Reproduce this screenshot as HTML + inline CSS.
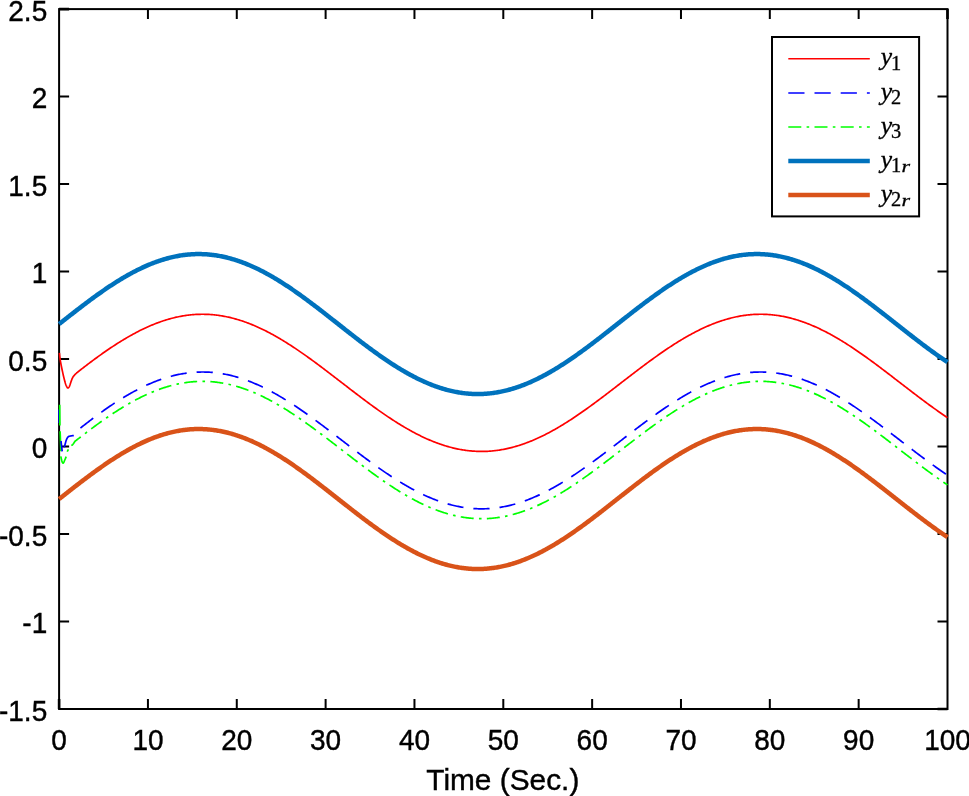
<!DOCTYPE html><html><head><meta charset="utf-8"><title>Plot</title><style>html,body{margin:0;padding:0;background:#fff}svg{display:block}text{font-family:"Liberation Sans",sans-serif;fill:#000}.s{font-family:"Liberation Serif",serif;font-style:italic}.r{font-family:"Liberation Serif",serif;font-style:normal}</style></head><body>
<svg width="969" height="796" viewBox="0 0 969 796">
<rect width="969" height="796" fill="#fff"/>
<g stroke="#000" stroke-width="2.00" fill="none">
<rect x="59.10" y="9.10" width="888.40" height="699.90"/>
<path d="M147.94 709.00V699.00 M147.94 9.10V19.10 M236.78 709.00V699.00 M236.78 9.10V19.10 M325.62 709.00V699.00 M325.62 9.10V19.10 M414.46 709.00V699.00 M414.46 9.10V19.10 M503.30 709.00V699.00 M503.30 9.10V19.10 M592.14 709.00V699.00 M592.14 9.10V19.10 M680.98 709.00V699.00 M680.98 9.10V19.10 M769.82 709.00V699.00 M769.82 9.10V19.10 M858.66 709.00V699.00 M858.66 9.10V19.10 M59.10 621.51H69.10 M947.50 621.51H937.50 M59.10 534.02H69.10 M947.50 534.02H937.50 M59.10 446.54H69.10 M947.50 446.54H937.50 M59.10 359.05H69.10 M947.50 359.05H937.50 M59.10 271.56H69.10 M947.50 271.56H937.50 M59.10 184.08H69.10 M947.50 184.08H937.50 M59.10 96.59H69.10 M947.50 96.59H937.50"/>
<path stroke-width="2.6" d="M947.50 9.10V19.10 M59.10 709.00V699.00 M59.10 9.10H69.10 M947.50 709.00H937.50"/>
</g>
<g fill="none" stroke-linejoin="round">
<path d="M59.40 352.80 L59.49 353.65 L59.60 354.79 L59.74 356.15 L59.91 357.69 L60.13 359.36 L60.40 361.10 L60.74 363.02 L61.16 365.17 L61.62 367.45 L62.10 369.74 L62.57 371.93 L63.00 373.90 L63.41 375.69 L63.82 377.41 L64.22 379.02 L64.60 380.50 L64.97 381.84 L65.30 383.00 L65.60 383.96 L65.87 384.72 L66.12 385.34 L66.36 385.84 L66.58 386.28 L66.80 386.70 L67.00 387.09 L67.18 387.42 L67.35 387.69 L67.52 387.88 L67.70 387.98 L67.90 388.00 L68.12 387.93 L68.36 387.79 L68.60 387.57 L68.86 387.25 L69.12 386.83 L69.40 386.30 L69.70 385.59 L70.02 384.71 L70.35 383.72 L70.68 382.70 L71.00 381.74 L71.30 380.90 L71.57 380.18 L71.81 379.52 L72.05 378.91 L72.29 378.34 L72.53 377.81 L72.80 377.30 L73.09 376.82 L73.41 376.39 L73.73 375.99 L74.06 375.62 L74.38 375.26 L74.70 374.90 L75.03 374.54 L75.37 374.17 L75.72 373.82 L76.04 373.50 L76.31 373.23 L76.50 373.03 L77.39 372.33 L78.48 371.48 L79.56 370.62 L80.65 369.77 L81.74 368.92 L82.83 368.08 L83.91 367.24 L85.00 366.40 L86.09 365.57 L87.18 364.74 L88.26 363.91 L89.35 363.09 L90.44 362.27 L91.53 361.46 L92.62 360.65 L93.70 359.84 L94.79 359.04 L95.88 358.24 L96.97 357.45 L98.05 356.66 L99.14 355.88 L100.23 355.10 L101.32 354.32 L102.40 353.55 L103.49 352.79 L104.58 352.03 L105.67 351.27 L106.75 350.52 L107.84 349.78 L108.93 349.04 L110.02 348.30 L111.11 347.57 L112.19 346.85 L113.28 346.13 L114.37 345.42 L115.46 344.72 L116.54 344.02 L117.63 343.33 L118.72 342.64 L119.81 341.96 L120.89 341.28 L121.98 340.61 L123.07 339.95 L124.16 339.30 L125.24 338.65 L126.33 338.01 L127.42 337.37 L128.51 336.75 L129.60 336.13 L130.68 335.51 L131.77 334.91 L132.86 334.31 L133.95 333.72 L135.03 333.13 L136.12 332.56 L137.21 331.99 L138.30 331.43 L139.38 330.87 L140.47 330.33 L141.56 329.79 L142.65 329.26 L143.73 328.74 L144.82 328.23 L145.91 327.72 L147.00 327.23 L148.08 326.74 L149.17 326.26 L150.26 325.79 L151.35 325.32 L152.44 324.87 L153.52 324.43 L154.61 323.99 L155.70 323.56 L156.79 323.14 L157.87 322.73 L158.96 322.33 L160.05 321.94 L161.14 321.56 L162.22 321.19 L163.31 320.82 L164.40 320.47 L165.49 320.13 L166.57 319.79 L167.66 319.46 L168.75 319.15 L169.84 318.84 L170.93 318.54 L172.01 318.26 L173.10 317.98 L174.19 317.71 L175.28 317.45 L176.36 317.20 L177.45 316.96 L178.54 316.74 L179.63 316.52 L180.71 316.31 L181.80 316.11 L182.89 315.92 L183.98 315.74 L185.06 315.57 L186.15 315.41 L187.24 315.27 L188.33 315.13 L189.42 315.00 L190.50 314.88 L191.59 314.77 L192.68 314.68 L193.77 314.59 L194.85 314.51 L195.94 314.44 L197.03 314.39 L198.12 314.34 L199.20 314.31 L200.29 314.28 L201.38 314.26 L202.47 314.26 L203.55 314.26 L204.64 314.28 L205.73 314.30 L206.82 314.34 L207.91 314.39 L208.99 314.44 L210.08 314.51 L211.17 314.59 L212.26 314.67 L213.34 314.77 L214.43 314.88 L215.52 315.00 L216.61 315.12 L217.69 315.26 L218.78 315.41 L219.87 315.57 L220.96 315.74 L222.04 315.92 L223.13 316.10 L224.22 316.30 L225.31 316.51 L226.40 316.73 L227.48 316.96 L228.57 317.20 L229.66 317.44 L230.75 317.70 L231.83 317.97 L232.92 318.25 L234.01 318.53 L235.10 318.83 L236.18 319.14 L237.27 319.45 L238.36 319.78 L239.45 320.11 L240.53 320.46 L241.62 320.81 L242.71 321.17 L243.80 321.55 L244.88 321.93 L245.97 322.32 L247.06 322.72 L248.15 323.13 L249.24 323.54 L250.32 323.97 L251.41 324.40 L252.50 324.85 L253.59 325.30 L254.67 325.76 L255.76 326.23 L256.85 326.71 L257.94 327.20 L259.02 327.69 L260.11 328.19 L261.20 328.71 L262.29 329.23 L263.37 329.75 L264.46 330.29 L265.55 330.83 L266.64 331.38 L267.73 331.94 L268.81 332.51 L269.90 333.08 L270.99 333.67 L272.08 334.25 L273.16 334.85 L274.25 335.45 L275.34 336.06 L276.43 336.68 L277.51 337.31 L278.60 337.94 L279.69 338.58 L280.78 339.22 L281.86 339.87 L282.95 340.53 L284.04 341.19 L285.13 341.86 L286.22 342.54 L287.30 343.22 L288.39 343.91 L289.48 344.61 L290.57 345.31 L291.65 346.01 L292.74 346.72 L293.83 347.44 L294.92 348.16 L296.00 348.89 L297.09 349.62 L298.18 350.36 L299.27 351.10 L300.35 351.85 L301.44 352.60 L302.53 353.35 L303.62 354.11 L304.71 354.88 L305.79 355.65 L306.88 356.42 L307.97 357.20 L309.06 357.98 L310.14 358.76 L311.23 359.55 L312.32 360.34 L313.41 361.14 L314.49 361.93 L315.58 362.73 L316.67 363.54 L317.76 364.35 L318.84 365.16 L319.93 365.97 L321.02 366.78 L322.11 367.60 L323.19 368.42 L324.28 369.24 L325.37 370.07 L326.46 370.89 L327.55 371.72 L328.63 372.55 L329.72 373.38 L330.81 374.21 L331.90 375.05 L332.98 375.88 L334.07 376.72 L335.16 377.56 L336.25 378.39 L337.33 379.23 L338.42 380.07 L339.51 380.91 L340.60 381.75 L341.68 382.59 L342.77 383.43 L343.86 384.27 L344.95 385.11 L346.04 385.95 L347.12 386.78 L348.21 387.62 L349.30 388.46 L350.39 389.30 L351.47 390.13 L352.56 390.97 L353.65 391.80 L354.74 392.63 L355.82 393.46 L356.91 394.29 L358.00 395.12 L359.09 395.94 L360.17 396.77 L361.26 397.59 L362.35 398.41 L363.44 399.22 L364.53 400.04 L365.61 400.85 L366.70 401.66 L367.79 402.46 L368.88 403.27 L369.96 404.07 L371.05 404.86 L372.14 405.66 L373.23 406.45 L374.31 407.23 L375.40 408.02 L376.49 408.80 L377.58 409.57 L378.66 410.34 L379.75 411.11 L380.84 411.87 L381.93 412.63 L383.02 413.39 L384.10 414.14 L385.19 414.88 L386.28 415.62 L387.37 416.36 L388.45 417.09 L389.54 417.81 L390.63 418.53 L391.72 419.25 L392.80 419.95 L393.89 420.66 L394.98 421.36 L396.07 422.05 L397.15 422.73 L398.24 423.41 L399.33 424.09 L400.42 424.76 L401.50 425.42 L402.59 426.07 L403.68 426.72 L404.77 427.36 L405.86 428.00 L406.94 428.63 L408.03 429.25 L409.12 429.86 L410.21 430.47 L411.29 431.07 L412.38 431.67 L413.47 432.25 L414.56 432.83 L415.64 433.40 L416.73 433.97 L417.82 434.52 L418.91 435.07 L419.99 435.61 L421.08 436.14 L422.17 436.67 L423.26 437.19 L424.35 437.69 L425.43 438.19 L426.52 438.69 L427.61 439.17 L428.70 439.64 L429.78 440.11 L430.87 440.57 L431.96 441.02 L433.05 441.46 L434.13 441.89 L435.22 442.31 L436.31 442.73 L437.40 443.13 L438.48 443.53 L439.57 443.91 L440.66 444.29 L441.75 444.66 L442.84 445.02 L443.92 445.37 L445.01 445.71 L446.10 446.04 L447.19 446.36 L448.27 446.68 L449.36 446.98 L450.45 447.27 L451.54 447.55 L452.62 447.83 L453.71 448.09 L454.80 448.35 L455.89 448.59 L456.97 448.83 L458.06 449.05 L459.15 449.26 L460.24 449.47 L461.33 449.66 L462.41 449.85 L463.50 450.02 L464.59 450.19 L465.68 450.34 L466.76 450.49 L467.85 450.62 L468.94 450.74 L470.03 450.86 L471.11 450.96 L472.20 451.06 L473.29 451.14 L474.38 451.21 L475.46 451.27 L476.55 451.33 L477.64 451.37 L478.73 451.40 L479.82 451.42 L480.90 451.43 L481.99 451.44 L483.08 451.43 L484.17 451.41 L485.25 451.38 L486.34 451.34 L487.43 451.29 L488.52 451.23 L489.60 451.16 L490.69 451.08 L491.78 450.98 L492.87 450.88 L493.95 450.77 L495.04 450.65 L496.13 450.52 L497.22 450.38 L498.30 450.22 L499.39 450.06 L500.48 449.89 L501.57 449.71 L502.66 449.51 L503.74 449.31 L504.83 449.10 L505.92 448.88 L507.01 448.64 L508.09 448.40 L509.18 448.15 L510.27 447.89 L511.36 447.62 L512.44 447.34 L513.53 447.05 L514.62 446.74 L515.71 446.43 L516.79 446.12 L517.88 445.79 L518.97 445.45 L520.06 445.10 L521.15 444.74 L522.23 444.38 L523.32 444.00 L524.41 443.62 L525.50 443.22 L526.58 442.82 L527.67 442.41 L528.76 441.99 L529.85 441.56 L530.93 441.12 L532.02 440.67 L533.11 440.21 L534.20 439.75 L535.28 439.28 L536.37 438.79 L537.46 438.30 L538.55 437.81 L539.64 437.30 L540.72 436.79 L541.81 436.26 L542.90 435.73 L543.99 435.19 L545.07 434.65 L546.16 434.09 L547.25 433.53 L548.34 432.96 L549.42 432.38 L550.51 431.80 L551.60 431.21 L552.69 430.61 L553.77 430.00 L554.86 429.39 L555.95 428.77 L557.04 428.14 L558.13 427.51 L559.21 426.87 L560.30 426.22 L561.39 425.57 L562.48 424.91 L563.56 424.24 L564.65 423.57 L565.74 422.89 L566.83 422.20 L567.91 421.51 L569.00 420.82 L570.09 420.11 L571.18 419.41 L572.26 418.69 L573.35 417.97 L574.44 417.25 L575.53 416.52 L576.61 415.79 L577.70 415.05 L578.79 414.30 L579.88 413.56 L580.97 412.80 L582.05 412.04 L583.14 411.28 L584.23 410.52 L585.32 409.75 L586.40 408.97 L587.49 408.19 L588.58 407.41 L589.67 406.63 L590.75 405.84 L591.84 405.04 L592.93 404.25 L594.02 403.45 L595.10 402.64 L596.19 401.84 L597.28 401.03 L598.37 400.22 L599.46 399.41 L600.54 398.59 L601.63 397.77 L602.72 396.95 L603.81 396.13 L604.89 395.30 L605.98 394.48 L607.07 393.65 L608.16 392.82 L609.24 391.99 L610.33 391.15 L611.42 390.32 L612.51 389.48 L613.59 388.65 L614.68 387.81 L615.77 386.97 L616.86 386.13 L617.95 385.30 L619.03 384.46 L620.12 383.62 L621.21 382.78 L622.30 381.94 L623.38 381.10 L624.47 380.26 L625.56 379.42 L626.65 378.58 L627.73 377.74 L628.82 376.91 L629.91 376.07 L631.00 375.24 L632.08 374.40 L633.17 373.57 L634.26 372.74 L635.35 371.91 L636.44 371.08 L637.52 370.25 L638.61 369.43 L639.70 368.61 L640.79 367.79 L641.87 366.97 L642.96 366.15 L644.05 365.34 L645.14 364.53 L646.22 363.72 L647.31 362.92 L648.40 362.11 L649.49 361.31 L650.57 360.52 L651.66 359.73 L652.75 358.94 L653.84 358.15 L654.92 357.37 L656.01 356.59 L657.10 355.82 L658.19 355.05 L659.28 354.28 L660.36 353.52 L661.45 352.77 L662.54 352.01 L663.63 351.27 L664.71 350.52 L665.80 349.78 L666.89 349.05 L667.98 348.32 L669.06 347.60 L670.15 346.88 L671.24 346.17 L672.33 345.46 L673.41 344.76 L674.50 344.07 L675.59 343.38 L676.68 342.69 L677.77 342.02 L678.85 341.34 L679.94 340.68 L681.03 340.02 L682.12 339.37 L683.20 338.72 L684.29 338.08 L685.38 337.45 L686.47 336.82 L687.55 336.20 L688.64 335.59 L689.73 334.99 L690.82 334.39 L691.90 333.80 L692.99 333.21 L694.08 332.64 L695.17 332.07 L696.26 331.51 L697.34 330.96 L698.43 330.41 L699.52 329.87 L700.61 329.34 L701.69 328.82 L702.78 328.31 L703.87 327.80 L704.96 327.31 L706.04 326.82 L707.13 326.34 L708.22 325.87 L709.31 325.40 L710.39 324.95 L711.48 324.50 L712.57 324.07 L713.66 323.64 L714.75 323.22 L715.83 322.81 L716.92 322.41 L718.01 322.01 L719.10 321.63 L720.18 321.26 L721.27 320.89 L722.36 320.54 L723.45 320.19 L724.53 319.85 L725.62 319.52 L726.71 319.21 L727.80 318.90 L728.88 318.60 L729.97 318.31 L731.06 318.03 L732.15 317.76 L733.24 317.50 L734.32 317.25 L735.41 317.01 L736.50 316.78 L737.59 316.56 L738.67 316.35 L739.76 316.15 L740.85 315.96 L741.94 315.78 L743.02 315.60 L744.11 315.44 L745.20 315.29 L746.29 315.15 L747.37 315.02 L748.46 314.90 L749.55 314.79 L750.64 314.69 L751.72 314.60 L752.81 314.52 L753.90 314.46 L754.99 314.40 L756.08 314.35 L757.16 314.31 L758.25 314.28 L759.34 314.26 L760.43 314.26 L761.51 314.26 L762.60 314.27 L763.69 314.30 L764.78 314.33 L765.86 314.37 L766.95 314.43 L768.04 314.49 L769.13 314.57 L770.21 314.65 L771.30 314.75 L772.39 314.85 L773.48 314.97 L774.57 315.09 L775.65 315.23 L776.74 315.38 L777.83 315.53 L778.92 315.70 L780.00 315.87 L781.09 316.06 L782.18 316.26 L783.27 316.46 L784.35 316.68 L785.44 316.91 L786.53 317.14 L787.62 317.39 L788.70 317.64 L789.79 317.91 L790.88 318.18 L791.97 318.47 L793.06 318.76 L794.14 319.07 L795.23 319.38 L796.32 319.71 L797.41 320.04 L798.49 320.38 L799.58 320.73 L800.67 321.09 L801.76 321.46 L802.84 321.84 L803.93 322.23 L805.02 322.63 L806.11 323.03 L807.19 323.45 L808.28 323.87 L809.37 324.31 L810.46 324.75 L811.55 325.20 L812.63 325.66 L813.72 326.13 L814.81 326.60 L815.90 327.09 L816.98 327.58 L818.07 328.08 L819.16 328.59 L820.25 329.11 L821.33 329.64 L822.42 330.17 L823.51 330.71 L824.60 331.26 L825.68 331.82 L826.77 332.38 L827.86 332.96 L828.95 333.54 L830.03 334.12 L831.12 334.72 L832.21 335.32 L833.30 335.93 L834.39 336.55 L835.47 337.17 L836.56 337.80 L837.65 338.44 L838.74 339.08 L839.82 339.73 L840.91 340.38 L842.00 341.05 L843.09 341.72 L844.17 342.39 L845.26 343.07 L846.35 343.76 L847.44 344.45 L848.52 345.15 L849.61 345.86 L850.70 346.57 L851.79 347.28 L852.88 348.00 L853.96 348.73 L855.05 349.46 L856.14 350.19 L857.23 350.93 L858.31 351.68 L859.40 352.43 L860.49 353.19 L861.58 353.95 L862.66 354.71 L863.75 355.48 L864.84 356.25 L865.93 357.02 L867.01 357.80 L868.10 358.59 L869.19 359.38 L870.28 360.17 L871.37 360.96 L872.45 361.76 L873.54 362.56 L874.63 363.36 L875.72 364.17 L876.80 364.98 L877.89 365.79 L878.98 366.60 L880.07 367.42 L881.15 368.24 L882.24 369.06 L883.33 369.89 L884.42 370.71 L885.50 371.54 L886.59 372.37 L887.68 373.20 L888.77 374.03 L889.86 374.86 L890.94 375.70 L892.03 376.53 L893.12 377.37 L894.21 378.21 L895.29 379.05 L896.38 379.89 L897.47 380.72 L898.56 381.56 L899.64 382.40 L900.73 383.24 L901.82 384.08 L902.91 384.92 L903.99 385.76 L905.08 386.60 L906.17 387.44 L907.26 388.28 L908.34 389.11 L909.43 389.95 L910.52 390.78 L911.61 391.62 L912.70 392.45 L913.78 393.28 L914.87 394.11 L915.96 394.94 L917.05 395.76 L918.13 396.59 L919.22 397.41 L920.31 398.23 L921.40 399.04 L922.48 399.86 L923.57 400.67 L924.66 401.48 L925.75 402.29 L926.83 403.09 L927.92 403.89 L929.01 404.69 L930.10 405.48 L931.19 406.27 L932.27 407.06 L933.36 407.85 L934.45 408.63 L935.54 409.40 L936.62 410.17 L937.71 410.94 L938.80 411.71 L939.89 412.47 L940.97 413.22 L942.06 413.97 L943.15 414.72 L944.24 415.46 L945.32 416.20 L946.41 416.93 L947.50 417.65" stroke="#ff0000" stroke-width="1.7"/>
<path d="M59.00 409.40 L59.20 423.00" stroke="#0000ff" stroke-width="1.70"/>
<path d="M59.70 404.70 L59.90 425.60 M60.10 431.20 L60.90 451.30 M60.80 456.40 L60.96 457.13 L61.19 458.20 L61.46 459.40 L61.74 460.53 L62.00 461.40 L62.24 462.02 L62.47 462.52 L62.71 462.89 L62.95 463.09 L63.20 463.10 L63.46 462.88 L63.74 462.43 L64.02 461.84 L64.30 461.17 L64.60 460.50 L64.93 459.74 L65.30 458.85 L65.67 457.94 L65.98 457.15 L66.20 456.60 M67.20 451.60 L68.40 449.40" stroke="#00ff00" stroke-width="1.70"/>
<path d="M71.40 445.70 L71.72 445.42 L72.19 445.02 L72.71 444.54 L73.20 444.00 L73.69 443.32 L74.21 442.52 L74.68 441.77 L75.00 441.25 L75.89 440.57 L76.98 439.74 L78.07 438.91 L79.16 438.08 L80.25 437.25 L81.34 436.41 L82.43 435.57 L83.52 434.73 L84.60 433.89 L85.69 433.05 L86.78 432.22 L87.87 431.40 L88.96 430.57 L90.05 429.75 L91.14 428.94 L92.23 428.12 L93.32 427.32 L94.41 426.51 L95.50 425.71 L96.59 424.91 L97.68 424.12 L98.77 423.33 L99.86 422.55 L100.95 421.77 L102.04 421.00 L103.13 420.23 L104.22 419.47 L105.31 418.71 L106.39 417.95 L107.48 417.20 L108.57 416.46 L109.66 415.72 L110.75 414.99 L111.84 414.26 L112.93 413.54 L114.02 412.82 L115.11 412.11 L116.20 411.41 L117.29 410.71 L118.38 410.02 L119.47 409.34 L120.56 408.66 L121.65 407.98 L122.74 407.32 L123.83 406.66 L124.92 406.01 L126.01 405.36 L127.10 404.72 L128.19 404.09 L129.27 403.46 L130.36 402.85 L131.45 402.24 L132.54 401.63 L133.63 401.04 L134.72 400.45 L135.81 399.87 L136.90 399.29 L137.99 398.73 L139.08 398.17 L140.17 397.62 L141.26 397.08 L142.35 396.55 L143.44 396.02 L144.53 395.50 L145.62 394.99 L146.71 394.49 L147.80 394.00 L148.89 393.52 L149.98 393.04 L151.06 392.58 L152.15 392.12 L153.24 391.67 L154.33 391.23 L155.42 390.80 L156.51 390.38 L157.60 389.96 L158.69 389.56 L159.78 389.16 L160.87 388.78 L161.96 388.40 L163.05 388.03 L164.14 387.68 L165.23 387.33 L166.32 386.99 L167.41 386.66 L168.50 386.34 L169.59 386.03 L170.68 385.73 L171.77 385.44 L172.86 385.16 L173.94 384.88 L175.03 384.62 L176.12 384.37 L177.21 384.13 L178.30 383.90 L179.39 383.68 L180.48 383.46 L181.57 383.26 L182.66 383.07 L183.75 382.89 L184.84 382.72 L185.93 382.56 L187.02 382.40 L188.11 382.26 L189.20 382.13 L190.29 382.01 L191.38 381.90 L192.47 381.80 L193.56 381.71 L194.65 381.63 L195.73 381.56 L196.82 381.50 L197.91 381.46 L199.00 381.42 L200.09 381.39 L201.18 381.37 L202.27 381.36 L203.36 381.37 L204.45 381.38 L205.54 381.41 L206.63 381.44 L207.72 381.48 L208.81 381.54 L209.90 381.60 L210.99 381.68 L212.08 381.76 L213.17 381.86 L214.26 381.97 L215.35 382.08 L216.44 382.21 L217.53 382.35 L218.61 382.49 L219.70 382.65 L220.79 382.82 L221.88 383.00 L222.97 383.18 L224.06 383.38 L225.15 383.59 L226.24 383.81 L227.33 384.03 L228.42 384.27 L229.51 384.52 L230.60 384.78 L231.69 385.04 L232.78 385.32 L233.87 385.61 L234.96 385.90 L236.05 386.21 L237.14 386.52 L238.23 386.85 L239.32 387.18 L240.41 387.53 L241.49 387.88 L242.58 388.24 L243.67 388.62 L244.76 389.00 L245.85 389.39 L246.94 389.79 L248.03 390.20 L249.12 390.61 L250.21 391.04 L251.30 391.48 L252.39 391.92 L253.48 392.37 L254.57 392.83 L255.66 393.31 L256.75 393.78 L257.84 394.27 L258.93 394.77 L260.02 395.27 L261.11 395.78 L262.20 396.30 L263.28 396.83 L264.37 397.37 L265.46 397.91 L266.55 398.47 L267.64 399.03 L268.73 399.59 L269.82 400.17 L270.91 400.75 L272.00 401.34 L273.09 401.94 L274.18 402.54 L275.27 403.16 L276.36 403.78 L277.45 404.40 L278.54 405.03 L279.63 405.67 L280.72 406.32 L281.81 406.97 L282.90 407.63 L283.99 408.30 L285.08 408.97 L286.16 409.65 L287.25 410.33 L288.34 411.02 L289.43 411.72 L290.52 412.42 L291.61 413.13 L292.70 413.84 L293.79 414.56 L294.88 415.28 L295.97 416.01 L297.06 416.75 L298.15 417.49 L299.24 418.23 L300.33 418.98 L301.42 419.73 L302.51 420.49 L303.60 421.25 L304.69 422.02 L305.78 422.79 L306.87 423.57 L307.95 424.34 L309.04 425.13 L310.13 425.91 L311.22 426.70 L312.31 427.50 L313.40 428.30 L314.49 429.10 L315.58 429.90 L316.67 430.71 L317.76 431.52 L318.85 432.33 L319.94 433.14 L321.03 433.96 L322.12 434.78 L323.21 435.60 L324.30 436.43 L325.39 437.25 L326.48 438.08 L327.57 438.91 L328.66 439.75 L329.75 440.58 L330.83 441.41 L331.92 442.25 L333.01 443.09 L334.10 443.93 L335.19 444.77 L336.28 445.61 L337.37 446.45 L338.46 447.29 L339.55 448.13 L340.64 448.97 L341.73 449.81 L342.82 450.66 L343.91 451.50 L345.00 452.34 L346.09 453.18 L347.18 454.02 L348.27 454.86 L349.36 455.70 L350.45 456.54 L351.54 457.38 L352.63 458.22 L353.71 459.05 L354.80 459.89 L355.89 460.72 L356.98 461.55 L358.07 462.38 L359.16 463.21 L360.25 464.03 L361.34 464.86 L362.43 465.68 L363.52 466.50 L364.61 467.31 L365.70 468.13 L366.79 468.94 L367.88 469.75 L368.97 470.55 L370.06 471.35 L371.15 472.15 L372.24 472.95 L373.33 473.74 L374.42 474.53 L375.50 475.31 L376.59 476.10 L377.68 476.87 L378.77 477.65 L379.86 478.42 L380.95 479.18 L382.04 479.94 L383.13 480.70 L384.22 481.45 L385.31 482.19 L386.40 482.94 L387.49 483.67 L388.58 484.40 L389.67 485.13 L390.76 485.85 L391.85 486.57 L392.94 487.28 L394.03 487.98 L395.12 488.68 L396.21 489.38 L397.30 490.06 L398.38 490.75 L399.47 491.42 L400.56 492.09 L401.65 492.75 L402.74 493.41 L403.83 494.06 L404.92 494.70 L406.01 495.34 L407.10 495.97 L408.19 496.59 L409.28 497.21 L410.37 497.81 L411.46 498.42 L412.55 499.01 L413.64 499.60 L414.73 500.18 L415.82 500.75 L416.91 501.31 L418.00 501.87 L419.09 502.42 L420.17 502.96 L421.26 503.49 L422.35 504.02 L423.44 504.53 L424.53 505.04 L425.62 505.54 L426.71 506.03 L427.80 506.52 L428.89 506.99 L429.98 507.46 L431.07 507.92 L432.16 508.36 L433.25 508.80 L434.34 509.24 L435.43 509.66 L436.52 510.07 L437.61 510.48 L438.70 510.87 L439.79 511.26 L440.88 511.64 L441.97 512.00 L443.05 512.36 L444.14 512.71 L445.23 513.05 L446.32 513.38 L447.41 513.70 L448.50 514.01 L449.59 514.31 L450.68 514.61 L451.77 514.89 L452.86 515.16 L453.95 515.42 L455.04 515.68 L456.13 515.92 L457.22 516.15 L458.31 516.37 L459.40 516.59 L460.49 516.79 L461.58 516.98 L462.67 517.17 L463.76 517.34 L464.85 517.50 L465.93 517.65 L467.02 517.80 L468.11 517.93 L469.20 518.05 L470.29 518.16 L471.38 518.26 L472.47 518.35 L473.56 518.44 L474.65 518.51 L475.74 518.57 L476.83 518.62 L477.92 518.66 L479.01 518.69 L480.10 518.71 L481.19 518.71 L482.28 518.71 L483.37 518.70 L484.46 518.68 L485.55 518.65 L486.64 518.60 L487.72 518.55 L488.81 518.49 L489.90 518.41 L490.99 518.33 L492.08 518.23 L493.17 518.13 L494.26 518.01 L495.35 517.89 L496.44 517.75 L497.53 517.61 L498.62 517.45 L499.71 517.29 L500.80 517.11 L501.89 516.93 L502.98 516.73 L504.07 516.52 L505.16 516.31 L506.25 516.08 L507.34 515.85 L508.43 515.60 L509.52 515.34 L510.60 515.08 L511.69 514.80 L512.78 514.52 L513.87 514.22 L514.96 513.92 L516.05 513.61 L517.14 513.28 L518.23 512.95 L519.32 512.61 L520.41 512.25 L521.50 511.89 L522.59 511.52 L523.68 511.14 L524.77 510.75 L525.86 510.36 L526.95 509.95 L528.04 509.53 L529.13 509.11 L530.22 508.67 L531.31 508.23 L532.39 507.78 L533.48 507.32 L534.57 506.85 L535.66 506.37 L536.75 505.89 L537.84 505.39 L538.93 504.89 L540.02 504.38 L541.11 503.86 L542.20 503.33 L543.29 502.80 L544.38 502.25 L545.47 501.70 L546.56 501.14 L547.65 500.58 L548.74 500.00 L549.83 499.42 L550.92 498.83 L552.01 498.24 L553.10 497.63 L554.19 497.02 L555.27 496.40 L556.36 495.78 L557.45 495.15 L558.54 494.51 L559.63 493.86 L560.72 493.21 L561.81 492.55 L562.90 491.89 L563.99 491.22 L565.08 490.54 L566.17 489.86 L567.26 489.17 L568.35 488.47 L569.44 487.77 L570.53 487.07 L571.62 486.35 L572.71 485.64 L573.80 484.91 L574.89 484.19 L575.98 483.45 L577.07 482.71 L578.15 481.97 L579.24 481.22 L580.33 480.47 L581.42 479.71 L582.51 478.95 L583.60 478.18 L584.69 477.41 L585.78 476.64 L586.87 475.86 L587.96 475.08 L589.05 474.29 L590.14 473.50 L591.23 472.71 L592.32 471.91 L593.41 471.11 L594.50 470.31 L595.59 469.50 L596.68 468.69 L597.77 467.88 L598.86 467.07 L599.94 466.25 L601.03 465.43 L602.12 464.61 L603.21 463.78 L604.30 462.96 L605.39 462.13 L606.48 461.30 L607.57 460.47 L608.66 459.64 L609.75 458.80 L610.84 457.96 L611.93 457.13 L613.02 456.29 L614.11 455.45 L615.20 454.61 L616.29 453.77 L617.38 452.93 L618.47 452.09 L619.56 451.24 L620.65 450.40 L621.74 449.56 L622.82 448.72 L623.91 447.88 L625.00 447.03 L626.09 446.19 L627.18 445.35 L628.27 444.51 L629.36 443.67 L630.45 442.84 L631.54 442.00 L632.63 441.16 L633.72 440.33 L634.81 439.50 L635.90 438.66 L636.99 437.83 L638.08 437.01 L639.17 436.18 L640.26 435.36 L641.35 434.53 L642.44 433.72 L643.53 432.90 L644.61 432.08 L645.70 431.27 L646.79 430.46 L647.88 429.66 L648.97 428.86 L650.06 428.06 L651.15 427.26 L652.24 426.47 L653.33 425.68 L654.42 424.89 L655.51 424.11 L656.60 423.33 L657.69 422.56 L658.78 421.79 L659.87 421.02 L660.96 420.26 L662.05 419.50 L663.14 418.75 L664.23 418.00 L665.32 417.26 L666.41 416.52 L667.49 415.79 L668.58 415.06 L669.67 414.34 L670.76 413.63 L671.85 412.91 L672.94 412.21 L674.03 411.51 L675.12 410.81 L676.21 410.13 L677.30 409.44 L678.39 408.77 L679.48 408.10 L680.57 407.43 L681.66 406.78 L682.75 406.12 L683.84 405.48 L684.93 404.84 L686.02 404.21 L687.11 403.59 L688.20 402.97 L689.29 402.36 L690.37 401.76 L691.46 401.16 L692.55 400.58 L693.64 399.99 L694.73 399.42 L695.82 398.86 L696.91 398.30 L698.00 397.75 L699.09 397.21 L700.18 396.67 L701.27 396.15 L702.36 395.63 L703.45 395.12 L704.54 394.62 L705.63 394.12 L706.72 393.64 L707.81 393.16 L708.90 392.69 L709.99 392.24 L711.08 391.78 L712.16 391.34 L713.25 390.91 L714.34 390.49 L715.43 390.07 L716.52 389.66 L717.61 389.27 L718.70 388.88 L719.79 388.50 L720.88 388.13 L721.97 387.77 L723.06 387.42 L724.15 387.08 L725.24 386.75 L726.33 386.43 L727.42 386.11 L728.51 385.81 L729.60 385.52 L730.69 385.23 L731.78 384.96 L732.87 384.69 L733.96 384.44 L735.04 384.20 L736.13 383.96 L737.22 383.74 L738.31 383.52 L739.40 383.32 L740.49 383.12 L741.58 382.94 L742.67 382.76 L743.76 382.60 L744.85 382.44 L745.94 382.30 L747.03 382.17 L748.12 382.04 L749.21 381.93 L750.30 381.83 L751.39 381.73 L752.48 381.65 L753.57 381.58 L754.66 381.52 L755.75 381.46 L756.83 381.42 L757.92 381.39 L759.01 381.37 L760.10 381.36 L761.19 381.36 L762.28 381.37 L763.37 381.39 L764.46 381.42 L765.55 381.46 L766.64 381.51 L767.73 381.58 L768.82 381.65 L769.91 381.73 L771.00 381.82 L772.09 381.93 L773.18 382.04 L774.27 382.16 L775.36 382.30 L776.45 382.44 L777.54 382.59 L778.63 382.76 L779.71 382.93 L780.80 383.12 L781.89 383.31 L782.98 383.51 L784.07 383.73 L785.16 383.95 L786.25 384.19 L787.34 384.43 L788.43 384.69 L789.52 384.95 L790.61 385.22 L791.70 385.51 L792.79 385.80 L793.88 386.10 L794.97 386.41 L796.06 386.74 L797.15 387.07 L798.24 387.41 L799.33 387.76 L800.42 388.12 L801.51 388.49 L802.59 388.87 L803.68 389.25 L804.77 389.65 L805.86 390.06 L806.95 390.47 L808.04 390.89 L809.13 391.33 L810.22 391.77 L811.31 392.22 L812.40 392.68 L813.49 393.15 L814.58 393.62 L815.67 394.11 L816.76 394.60 L817.85 395.10 L818.94 395.61 L820.03 396.13 L821.12 396.65 L822.21 397.19 L823.30 397.73 L824.38 398.28 L825.47 398.84 L826.56 399.40 L827.65 399.97 L828.74 400.55 L829.83 401.14 L830.92 401.74 L832.01 402.34 L833.10 402.95 L834.19 403.57 L835.28 404.19 L836.37 404.82 L837.46 405.46 L838.55 406.10 L839.64 406.75 L840.73 407.41 L841.82 408.07 L842.91 408.74 L844.00 409.42 L845.09 410.10 L846.18 410.79 L847.26 411.48 L848.35 412.18 L849.44 412.89 L850.53 413.60 L851.62 414.32 L852.71 415.04 L853.80 415.77 L854.89 416.50 L855.98 417.24 L857.07 417.98 L858.16 418.73 L859.25 419.48 L860.34 420.23 L861.43 420.99 L862.52 421.76 L863.61 422.53 L864.70 423.30 L865.79 424.08 L866.88 424.86 L867.97 425.65 L869.05 426.44 L870.14 427.23 L871.23 428.03 L872.32 428.83 L873.41 429.63 L874.50 430.43 L875.59 431.24 L876.68 432.05 L877.77 432.87 L878.86 433.69 L879.95 434.50 L881.04 435.33 L882.13 436.15 L883.22 436.98 L884.31 437.80 L885.40 438.63 L886.49 439.47 L887.58 440.30 L888.67 441.13 L889.76 441.97 L890.85 442.81 L891.93 443.64 L893.02 444.48 L894.11 445.32 L895.20 446.16 L896.29 447.00 L897.38 447.85 L898.47 448.69 L899.56 449.53 L900.65 450.37 L901.74 451.21 L902.83 452.06 L903.92 452.90 L905.01 453.74 L906.10 454.58 L907.19 455.42 L908.28 456.26 L909.37 457.10 L910.46 457.93 L911.55 458.77 L912.64 459.61 L913.73 460.44 L914.81 461.27 L915.90 462.10 L916.99 462.93 L918.08 463.76 L919.17 464.58 L920.26 465.40 L921.35 466.22 L922.44 467.04 L923.53 467.85 L924.62 468.67 L925.71 469.47 L926.80 470.28 L927.89 471.08 L928.98 471.88 L930.07 472.68 L931.16 473.47 L932.25 474.26 L933.34 475.05 L934.43 475.83 L935.52 476.61 L936.60 477.39 L937.69 478.16 L938.78 478.92 L939.87 479.69 L940.96 480.44 L942.05 481.20 L943.14 481.94 L944.23 482.69 L945.32 483.43 L946.41 484.16 L947.50 484.89" stroke="#00ff00" stroke-width="1.70" stroke-dasharray="13 5.3 2.6 5.3" stroke-dashoffset="0"/>
<path d="M61.00 441.00 L62.20 451.30 M64.30 447.40 L64.43 446.87 L64.62 446.12 L64.84 445.25 L65.07 444.34 L65.30 443.50 L65.52 442.70 L65.75 441.88 L65.98 441.07 L66.23 440.30 L66.50 439.60 L66.78 438.95 L67.07 438.35 L67.38 437.79 L67.72 437.31 L68.10 436.90 L68.51 436.60 L68.96 436.39 L69.44 436.24 L69.95 436.13 L70.50 436.00 L71.16 435.87 L71.91 435.75 L72.67 435.64 L73.34 435.56 L73.80 435.50" stroke="#0000ff" stroke-width="1.70"/>
<path d="M73.80 435.50 L74.37 434.88 L75.19 433.99 L76.11 432.99 L77.00 432.00 L77.92 430.96 L78.90 429.83 L79.78 428.80 L80.40 428.09 L81.29 427.38 L82.37 426.53 L83.45 425.68 L84.54 424.83 L85.62 423.99 L86.70 423.15 L87.78 422.31 L88.87 421.48 L89.95 420.65 L91.03 419.83 L92.12 419.01 L93.20 418.19 L94.28 417.38 L95.36 416.58 L96.45 415.78 L97.53 414.98 L98.61 414.19 L99.70 413.40 L100.78 412.62 L101.86 411.85 L102.94 411.07 L104.03 410.31 L105.11 409.55 L106.19 408.79 L107.27 408.04 L108.36 407.30 L109.44 406.56 L110.52 405.82 L111.61 405.10 L112.69 404.37 L113.77 403.66 L114.85 402.95 L115.94 402.24 L117.02 401.55 L118.10 400.85 L119.19 400.17 L120.27 399.49 L121.35 398.82 L122.43 398.15 L123.52 397.49 L124.60 396.84 L125.68 396.19 L126.76 395.56 L127.85 394.92 L128.93 394.30 L130.01 393.68 L131.10 393.07 L132.18 392.47 L133.26 391.87 L134.34 391.29 L135.43 390.71 L136.51 390.13 L137.59 389.57 L138.67 389.01 L139.76 388.46 L140.84 387.92 L141.92 387.39 L143.01 386.86 L144.09 386.34 L145.17 385.83 L146.25 385.33 L147.34 384.84 L148.42 384.36 L149.50 383.88 L150.59 383.41 L151.67 382.95 L152.75 382.50 L153.83 382.06 L154.92 381.63 L156.00 381.21 L157.08 380.79 L158.16 380.39 L159.25 379.99 L160.33 379.60 L161.41 379.23 L162.50 378.86 L163.58 378.50 L164.66 378.15 L165.74 377.80 L166.83 377.47 L167.91 377.15 L168.99 376.84 L170.08 376.53 L171.16 376.24 L172.24 375.95 L173.32 375.68 L174.41 375.41 L175.49 375.16 L176.57 374.91 L177.65 374.68 L178.74 374.45 L179.82 374.23 L180.90 374.03 L181.99 373.83 L183.07 373.65 L184.15 373.47 L185.23 373.30 L186.32 373.15 L187.40 373.00 L188.48 372.86 L189.56 372.74 L190.65 372.62 L191.73 372.51 L192.81 372.42 L193.90 372.33 L194.98 372.26 L196.06 372.19 L197.14 372.13 L198.23 372.09 L199.31 372.05 L200.39 372.03 L201.48 372.01 L202.56 372.01 L203.64 372.01 L204.72 372.03 L205.81 372.06 L206.89 372.09 L207.97 372.14 L209.05 372.19 L210.14 372.26 L211.22 372.34 L212.30 372.42 L213.39 372.52 L214.47 372.63 L215.55 372.75 L216.63 372.87 L217.72 373.01 L218.80 373.16 L219.88 373.31 L220.97 373.48 L222.05 373.66 L223.13 373.84 L224.21 374.04 L225.30 374.25 L226.38 374.47 L227.46 374.69 L228.54 374.93 L229.63 375.17 L230.71 375.43 L231.79 375.69 L232.88 375.97 L233.96 376.25 L235.04 376.55 L236.12 376.85 L237.21 377.16 L238.29 377.49 L239.37 377.82 L240.45 378.16 L241.54 378.51 L242.62 378.87 L243.70 379.24 L244.79 379.62 L245.87 380.00 L246.95 380.40 L248.03 380.80 L249.12 381.22 L250.20 381.64 L251.28 382.07 L252.37 382.51 L253.45 382.96 L254.53 383.41 L255.61 383.88 L256.70 384.35 L257.78 384.84 L258.86 385.33 L259.94 385.82 L261.03 386.33 L262.11 386.85 L263.19 387.37 L264.28 387.90 L265.36 388.44 L266.44 388.98 L267.52 389.54 L268.61 390.10 L269.69 390.67 L270.77 391.24 L271.85 391.83 L272.94 392.42 L274.02 393.01 L275.10 393.62 L276.19 394.23 L277.27 394.85 L278.35 395.47 L279.43 396.11 L280.52 396.74 L281.60 397.39 L282.68 398.04 L283.77 398.70 L284.85 399.36 L285.93 400.03 L287.01 400.71 L288.10 401.39 L289.18 402.08 L290.26 402.77 L291.34 403.47 L292.43 404.18 L293.51 404.89 L294.59 405.60 L295.68 406.32 L296.76 407.05 L297.84 407.78 L298.92 408.51 L300.01 409.25 L301.09 410.00 L302.17 410.75 L303.26 411.50 L304.34 412.26 L305.42 413.02 L306.50 413.79 L307.59 414.56 L308.67 415.33 L309.75 416.11 L310.83 416.89 L311.92 417.67 L313.00 418.46 L314.08 419.25 L315.17 420.05 L316.25 420.84 L317.33 421.65 L318.41 422.45 L319.50 423.25 L320.58 424.06 L321.66 424.87 L322.74 425.69 L323.83 426.50 L324.91 427.32 L325.99 428.14 L327.08 428.96 L328.16 429.78 L329.24 430.61 L330.32 431.43 L331.41 432.26 L332.49 433.09 L333.57 433.92 L334.66 434.75 L335.74 435.58 L336.82 436.41 L337.90 437.25 L338.99 438.08 L340.07 438.91 L341.15 439.75 L342.23 440.58 L343.32 441.41 L344.40 442.25 L345.48 443.08 L346.57 443.91 L347.65 444.75 L348.73 445.58 L349.81 446.41 L350.90 447.24 L351.98 448.07 L353.06 448.90 L354.15 449.72 L355.23 450.55 L356.31 451.37 L357.39 452.19 L358.48 453.01 L359.56 453.83 L360.64 454.65 L361.72 455.46 L362.81 456.28 L363.89 457.09 L364.97 457.89 L366.06 458.70 L367.14 459.50 L368.22 460.30 L369.30 461.10 L370.39 461.89 L371.47 462.68 L372.55 463.47 L373.63 464.25 L374.72 465.03 L375.80 465.81 L376.88 466.58 L377.97 467.35 L379.05 468.11 L380.13 468.87 L381.21 469.63 L382.30 470.38 L383.38 471.13 L384.46 471.87 L385.55 472.61 L386.63 473.34 L387.71 474.07 L388.79 474.79 L389.88 475.51 L390.96 476.22 L392.04 476.93 L393.12 477.63 L394.21 478.33 L395.29 479.02 L396.37 479.71 L397.46 480.39 L398.54 481.06 L399.62 481.73 L400.70 482.39 L401.79 483.05 L402.87 483.69 L403.95 484.34 L405.03 484.97 L406.12 485.60 L407.20 486.23 L408.28 486.84 L409.37 487.45 L410.45 488.05 L411.53 488.65 L412.61 489.23 L413.70 489.82 L414.78 490.39 L415.86 490.95 L416.95 491.51 L418.03 492.06 L419.11 492.61 L420.19 493.14 L421.28 493.67 L422.36 494.19 L423.44 494.70 L424.52 495.20 L425.61 495.70 L426.69 496.19 L427.77 496.66 L428.86 497.13 L429.94 497.60 L431.02 498.05 L432.10 498.50 L433.19 498.93 L434.27 499.36 L435.35 499.78 L436.44 500.19 L437.52 500.59 L438.60 500.98 L439.68 501.36 L440.77 501.74 L441.85 502.10 L442.93 502.46 L444.01 502.81 L445.10 503.14 L446.18 503.47 L447.26 503.79 L448.35 504.10 L449.43 504.40 L450.51 504.69 L451.59 504.97 L452.68 505.24 L453.76 505.50 L454.84 505.76 L455.92 506.00 L457.01 506.23 L458.09 506.45 L459.17 506.67 L460.26 506.87 L461.34 507.06 L462.42 507.25 L463.50 507.42 L464.59 507.58 L465.67 507.74 L466.75 507.88 L467.84 508.01 L468.92 508.14 L470.00 508.25 L471.08 508.35 L472.17 508.45 L473.25 508.53 L474.33 508.60 L475.41 508.66 L476.50 508.72 L477.58 508.76 L478.66 508.79 L479.75 508.81 L480.83 508.83 L481.91 508.83 L482.99 508.82 L484.08 508.80 L485.16 508.77 L486.24 508.73 L487.33 508.69 L488.41 508.63 L489.49 508.56 L490.57 508.48 L491.66 508.39 L492.74 508.29 L493.82 508.18 L494.90 508.06 L495.99 507.93 L497.07 507.79 L498.15 507.64 L499.24 507.48 L500.32 507.31 L501.40 507.13 L502.48 506.94 L503.57 506.74 L504.65 506.53 L505.73 506.31 L506.81 506.08 L507.90 505.85 L508.98 505.60 L510.06 505.34 L511.15 505.07 L512.23 504.79 L513.31 504.51 L514.39 504.21 L515.48 503.91 L516.56 503.59 L517.64 503.27 L518.73 502.93 L519.81 502.59 L520.89 502.24 L521.97 501.87 L523.06 501.50 L524.14 501.12 L525.22 500.73 L526.30 500.34 L527.39 499.93 L528.47 499.51 L529.55 499.09 L530.64 498.66 L531.72 498.21 L532.80 497.76 L533.88 497.31 L534.97 496.84 L536.05 496.36 L537.13 495.88 L538.22 495.39 L539.30 494.89 L540.38 494.38 L541.46 493.86 L542.55 493.34 L543.63 492.80 L544.71 492.26 L545.79 491.72 L546.88 491.16 L547.96 490.60 L549.04 490.03 L550.13 489.45 L551.21 488.86 L552.29 488.27 L553.37 487.67 L554.46 487.07 L555.54 486.45 L556.62 485.83 L557.70 485.21 L558.79 484.57 L559.87 483.93 L560.95 483.28 L562.04 482.63 L563.12 481.97 L564.20 481.31 L565.28 480.64 L566.37 479.96 L567.45 479.27 L568.53 478.59 L569.62 477.89 L570.70 477.19 L571.78 476.48 L572.86 475.77 L573.95 475.06 L575.03 474.34 L576.11 473.61 L577.19 472.88 L578.28 472.14 L579.36 471.40 L580.44 470.65 L581.53 469.90 L582.61 469.15 L583.69 468.39 L584.77 467.63 L585.86 466.86 L586.94 466.09 L588.02 465.32 L589.10 464.54 L590.19 463.75 L591.27 462.97 L592.35 462.18 L593.44 461.39 L594.52 460.59 L595.60 459.79 L596.68 458.99 L597.77 458.19 L598.85 457.38 L599.93 456.57 L601.02 455.76 L602.10 454.95 L603.18 454.13 L604.26 453.32 L605.35 452.50 L606.43 451.67 L607.51 450.85 L608.59 450.03 L609.68 449.20 L610.76 448.37 L611.84 447.54 L612.93 446.71 L614.01 445.88 L615.09 445.05 L616.17 444.22 L617.26 443.39 L618.34 442.55 L619.42 441.72 L620.51 440.89 L621.59 440.05 L622.67 439.22 L623.75 438.38 L624.84 437.55 L625.92 436.72 L627.00 435.89 L628.08 435.05 L629.17 434.22 L630.25 433.39 L631.33 432.56 L632.42 431.74 L633.50 430.91 L634.58 430.09 L635.66 429.26 L636.75 428.44 L637.83 427.62 L638.91 426.80 L639.99 425.99 L641.08 425.17 L642.16 424.36 L643.24 423.55 L644.33 422.74 L645.41 421.94 L646.49 421.14 L647.57 420.34 L648.66 419.54 L649.74 418.75 L650.82 417.96 L651.91 417.18 L652.99 416.39 L654.07 415.61 L655.15 414.84 L656.24 414.07 L657.32 413.30 L658.40 412.54 L659.48 411.78 L660.57 411.02 L661.65 410.27 L662.73 409.53 L663.82 408.78 L664.90 408.05 L665.98 407.31 L667.06 406.59 L668.15 405.86 L669.23 405.15 L670.31 404.44 L671.40 403.73 L672.48 403.03 L673.56 402.33 L674.64 401.64 L675.73 400.96 L676.81 400.28 L677.89 399.61 L678.97 398.94 L680.06 398.28 L681.14 397.63 L682.22 396.98 L683.31 396.34 L684.39 395.71 L685.47 395.08 L686.55 394.46 L687.64 393.84 L688.72 393.23 L689.80 392.63 L690.88 392.04 L691.97 391.45 L693.05 390.88 L694.13 390.30 L695.22 389.74 L696.30 389.18 L697.38 388.64 L698.46 388.09 L699.55 387.56 L700.63 387.04 L701.71 386.52 L702.80 386.01 L703.88 385.51 L704.96 385.01 L706.04 384.53 L707.13 384.05 L708.21 383.58 L709.29 383.12 L710.37 382.67 L711.46 382.23 L712.54 381.79 L713.62 381.37 L714.71 380.95 L715.79 380.54 L716.87 380.14 L717.95 379.75 L719.04 379.37 L720.12 379.00 L721.20 378.64 L722.28 378.28 L723.37 377.94 L724.45 377.60 L725.53 377.28 L726.62 376.96 L727.70 376.66 L728.78 376.36 L729.86 376.07 L730.95 375.79 L732.03 375.52 L733.11 375.26 L734.20 375.01 L735.28 374.77 L736.36 374.54 L737.44 374.32 L738.53 374.11 L739.61 373.91 L740.69 373.72 L741.77 373.54 L742.86 373.37 L743.94 373.21 L745.02 373.06 L746.11 372.92 L747.19 372.78 L748.27 372.66 L749.35 372.55 L750.44 372.45 L751.52 372.36 L752.60 372.28 L753.69 372.21 L754.77 372.15 L755.85 372.10 L756.93 372.06 L758.02 372.03 L759.10 372.01 L760.18 372.00 L761.26 372.00 L762.35 372.01 L763.43 372.03 L764.51 372.06 L765.60 372.10 L766.68 372.15 L767.76 372.22 L768.84 372.29 L769.93 372.37 L771.01 372.46 L772.09 372.56 L773.17 372.68 L774.26 372.80 L775.34 372.93 L776.42 373.07 L777.51 373.22 L778.59 373.39 L779.67 373.56 L780.75 373.74 L781.84 373.93 L782.92 374.13 L784.00 374.34 L785.09 374.57 L786.17 374.80 L787.25 375.04 L788.33 375.29 L789.42 375.55 L790.50 375.82 L791.58 376.10 L792.66 376.39 L793.75 376.69 L794.83 376.99 L795.91 377.31 L797.00 377.64 L798.08 377.97 L799.16 378.32 L800.24 378.68 L801.33 379.04 L802.41 379.41 L803.49 379.79 L804.58 380.19 L805.66 380.59 L806.74 380.99 L807.82 381.41 L808.91 381.84 L809.99 382.27 L811.07 382.72 L812.15 383.17 L813.24 383.63 L814.32 384.10 L815.40 384.58 L816.49 385.06 L817.57 385.56 L818.65 386.06 L819.73 386.57 L820.82 387.09 L821.90 387.62 L822.98 388.15 L824.06 388.69 L825.15 389.24 L826.23 389.80 L827.31 390.36 L828.40 390.93 L829.48 391.51 L830.56 392.10 L831.64 392.70 L832.73 393.30 L833.81 393.90 L834.89 394.52 L835.98 395.14 L837.06 395.77 L838.14 396.40 L839.22 397.05 L840.31 397.69 L841.39 398.35 L842.47 399.01 L843.55 399.68 L844.64 400.35 L845.72 401.03 L846.80 401.71 L847.89 402.40 L848.97 403.10 L850.05 403.80 L851.13 404.51 L852.22 405.22 L853.30 405.94 L854.38 406.66 L855.47 407.39 L856.55 408.12 L857.63 408.86 L858.71 409.60 L859.80 410.35 L860.88 411.10 L861.96 411.85 L863.04 412.61 L864.13 413.38 L865.21 414.15 L866.29 414.92 L867.38 415.69 L868.46 416.47 L869.54 417.26 L870.62 418.04 L871.71 418.83 L872.79 419.63 L873.87 420.42 L874.95 421.22 L876.04 422.02 L877.12 422.83 L878.20 423.63 L879.29 424.44 L880.37 425.25 L881.45 426.07 L882.53 426.89 L883.62 427.70 L884.70 428.52 L885.78 429.35 L886.87 430.17 L887.95 430.99 L889.03 431.82 L890.11 432.65 L891.20 433.48 L892.28 434.31 L893.36 435.14 L894.44 435.97 L895.53 436.80 L896.61 437.64 L897.69 438.47 L898.78 439.30 L899.86 440.14 L900.94 440.97 L902.02 441.80 L903.11 442.64 L904.19 443.47 L905.27 444.30 L906.35 445.14 L907.44 445.97 L908.52 446.80 L909.60 447.63 L910.69 448.46 L911.77 449.28 L912.85 450.11 L913.93 450.93 L915.02 451.76 L916.10 452.58 L917.18 453.40 L918.27 454.22 L919.35 455.03 L920.43 455.85 L921.51 456.66 L922.60 457.47 L923.68 458.27 L924.76 459.08 L925.84 459.88 L926.93 460.67 L928.01 461.47 L929.09 462.26 L930.18 463.05 L931.26 463.83 L932.34 464.62 L933.42 465.39 L934.51 466.17 L935.59 466.94 L936.67 467.71 L937.76 468.47 L938.84 469.23 L939.92 469.98 L941.00 470.73 L942.09 471.48 L943.17 472.22 L944.25 472.95 L945.33 473.68 L946.42 474.41 L947.50 475.13" stroke="#0000ff" stroke-width="1.70" stroke-dasharray="16.2 10" stroke-dashoffset="16.2"/>
<path d="M59.10 324.06 L60.21 323.18 L61.32 322.31 L62.43 321.43 L63.54 320.56 L64.65 319.68 L65.76 318.81 L66.87 317.94 L67.98 317.07 L69.09 316.20 L70.20 315.33 L71.32 314.46 L72.43 313.60 L73.54 312.73 L74.65 311.87 L75.76 311.01 L76.87 310.15 L77.98 309.29 L79.09 308.44 L80.20 307.59 L81.31 306.74 L82.42 305.89 L83.53 305.05 L84.64 304.21 L85.75 303.37 L86.86 302.54 L87.97 301.71 L89.08 300.88 L90.19 300.06 L91.30 299.24 L92.41 298.42 L93.53 297.61 L94.64 296.80 L95.75 296.00 L96.86 295.20 L97.97 294.40 L99.08 293.61 L100.19 292.83 L101.30 292.05 L102.41 291.27 L103.52 290.50 L104.63 289.73 L105.74 288.98 L106.85 288.22 L107.96 287.47 L109.07 286.73 L110.18 285.99 L111.29 285.26 L112.40 284.54 L113.51 283.82 L114.62 283.10 L115.74 282.40 L116.85 281.70 L117.96 281.00 L119.07 280.32 L120.18 279.64 L121.29 278.97 L122.40 278.30 L123.51 277.64 L124.62 276.99 L125.73 276.35 L126.84 275.71 L127.95 275.08 L129.06 274.46 L130.17 273.85 L131.28 273.24 L132.39 272.64 L133.50 272.05 L134.61 271.47 L135.72 270.90 L136.84 270.33 L137.95 269.78 L139.06 269.23 L140.17 268.69 L141.28 268.16 L142.39 267.64 L143.50 267.12 L144.61 266.62 L145.72 266.12 L146.83 265.64 L147.94 265.16 L149.05 264.69 L150.16 264.23 L151.27 263.78 L152.38 263.34 L153.49 262.91 L154.60 262.49 L155.71 262.08 L156.82 261.68 L157.93 261.29 L159.04 260.91 L160.16 260.53 L161.27 260.17 L162.38 259.82 L163.49 259.48 L164.60 259.14 L165.71 258.82 L166.82 258.51 L167.93 258.21 L169.04 257.92 L170.15 257.64 L171.26 257.36 L172.37 257.10 L173.48 256.85 L174.59 256.62 L175.70 256.39 L176.81 256.17 L177.92 255.96 L179.03 255.76 L180.14 255.58 L181.25 255.40 L182.37 255.24 L183.48 255.08 L184.59 254.94 L185.70 254.81 L186.81 254.69 L187.92 254.58 L189.03 254.48 L190.14 254.39 L191.25 254.31 L192.36 254.24 L193.47 254.18 L194.58 254.14 L195.69 254.10 L196.80 254.08 L197.91 254.07 L199.02 254.07 L200.13 254.07 L201.24 254.09 L202.35 254.13 L203.47 254.17 L204.58 254.22 L205.69 254.28 L206.80 254.36 L207.91 254.44 L209.02 254.54 L210.13 254.65 L211.24 254.77 L212.35 254.90 L213.46 255.04 L214.57 255.19 L215.68 255.35 L216.79 255.52 L217.90 255.70 L219.01 255.90 L220.12 256.10 L221.23 256.31 L222.34 256.54 L223.45 256.78 L224.56 257.02 L225.67 257.28 L226.79 257.55 L227.90 257.82 L229.01 258.11 L230.12 258.41 L231.23 258.72 L232.34 259.04 L233.45 259.37 L234.56 259.71 L235.67 260.05 L236.78 260.41 L237.89 260.78 L239.00 261.16 L240.11 261.55 L241.22 261.95 L242.33 262.36 L243.44 262.77 L244.55 263.20 L245.66 263.64 L246.77 264.09 L247.88 264.54 L249.00 265.01 L250.11 265.48 L251.22 265.96 L252.33 266.46 L253.44 266.96 L254.55 267.47 L255.66 267.99 L256.77 268.52 L257.88 269.05 L258.99 269.60 L260.10 270.15 L261.21 270.71 L262.32 271.28 L263.43 271.86 L264.54 272.45 L265.65 273.05 L266.76 273.65 L267.87 274.26 L268.98 274.88 L270.10 275.50 L271.21 276.14 L272.32 276.78 L273.43 277.43 L274.54 278.08 L275.65 278.75 L276.76 279.42 L277.87 280.10 L278.98 280.78 L280.09 281.47 L281.20 282.17 L282.31 282.87 L283.42 283.58 L284.53 284.30 L285.64 285.02 L286.75 285.75 L287.86 286.49 L288.97 287.23 L290.08 287.98 L291.19 288.73 L292.31 289.49 L293.42 290.25 L294.53 291.02 L295.64 291.79 L296.75 292.57 L297.86 293.35 L298.97 294.14 L300.08 294.94 L301.19 295.73 L302.30 296.54 L303.41 297.34 L304.52 298.15 L305.63 298.97 L306.74 299.79 L307.85 300.61 L308.96 301.44 L310.07 302.26 L311.18 303.10 L312.29 303.93 L313.40 304.77 L314.51 305.62 L315.63 306.46 L316.74 307.31 L317.85 308.16 L318.96 309.01 L320.07 309.87 L321.18 310.73 L322.29 311.59 L323.40 312.45 L324.51 313.31 L325.62 314.18 L326.73 315.04 L327.84 315.91 L328.95 316.78 L330.06 317.65 L331.17 318.53 L332.28 319.40 L333.39 320.27 L334.50 321.14 L335.61 322.02 L336.73 322.89 L337.84 323.77 L338.95 324.64 L340.06 325.52 L341.17 326.39 L342.28 327.27 L343.39 328.14 L344.50 329.01 L345.61 329.89 L346.72 330.76 L347.83 331.63 L348.94 332.50 L350.05 333.36 L351.16 334.23 L352.27 335.10 L353.38 335.96 L354.49 336.82 L355.60 337.68 L356.71 338.54 L357.82 339.39 L358.94 340.24 L360.05 341.09 L361.16 341.94 L362.27 342.78 L363.38 343.63 L364.49 344.46 L365.60 345.30 L366.71 346.13 L367.82 346.96 L368.93 347.79 L370.04 348.61 L371.15 349.42 L372.26 350.24 L373.37 351.05 L374.48 351.85 L375.59 352.65 L376.70 353.45 L377.81 354.24 L378.92 355.03 L380.03 355.81 L381.15 356.59 L382.26 357.36 L383.37 358.13 L384.48 358.89 L385.59 359.64 L386.70 360.39 L387.81 361.14 L388.92 361.88 L390.03 362.61 L391.14 363.34 L392.25 364.06 L393.36 364.77 L394.47 365.48 L395.58 366.18 L396.69 366.88 L397.80 367.57 L398.91 368.25 L400.02 368.92 L401.13 369.59 L402.24 370.25 L403.36 370.91 L404.47 371.55 L405.58 372.19 L406.69 372.82 L407.80 373.45 L408.91 374.06 L410.02 374.67 L411.13 375.27 L412.24 375.86 L413.35 376.45 L414.46 377.02 L415.57 377.59 L416.68 378.15 L417.79 378.70 L418.90 379.24 L420.01 379.78 L421.12 380.30 L422.23 380.82 L423.34 381.33 L424.45 381.82 L425.56 382.31 L426.68 382.79 L427.79 383.27 L428.90 383.73 L430.01 384.18 L431.12 384.62 L432.23 385.06 L433.34 385.48 L434.45 385.90 L435.56 386.30 L436.67 386.70 L437.78 387.08 L438.89 387.46 L440.00 387.82 L441.11 388.18 L442.22 388.52 L443.33 388.86 L444.44 389.18 L445.55 389.50 L446.66 389.80 L447.78 390.10 L448.89 390.38 L450.00 390.66 L451.11 390.92 L452.22 391.17 L453.33 391.42 L454.44 391.65 L455.55 391.87 L456.66 392.08 L457.77 392.28 L458.88 392.47 L459.99 392.65 L461.10 392.82 L462.21 392.98 L463.32 393.12 L464.43 393.26 L465.54 393.39 L466.65 393.50 L467.76 393.60 L468.87 393.70 L469.99 393.78 L471.10 393.85 L472.21 393.91 L473.32 393.96 L474.43 394.00 L475.54 394.02 L476.65 394.04 L477.76 394.04 L478.87 394.04 L479.98 394.02 L481.09 394.00 L482.20 393.96 L483.31 393.91 L484.42 393.85 L485.53 393.78 L486.64 393.69 L487.75 393.60 L488.86 393.50 L489.97 393.38 L491.08 393.26 L492.20 393.12 L493.31 392.97 L494.42 392.82 L495.53 392.65 L496.64 392.47 L497.75 392.28 L498.86 392.08 L499.97 391.87 L501.08 391.65 L502.19 391.41 L503.30 391.17 L504.41 390.92 L505.52 390.65 L506.63 390.38 L507.74 390.09 L508.85 389.80 L509.96 389.49 L511.07 389.18 L512.18 388.85 L513.29 388.52 L514.40 388.17 L515.52 387.82 L516.63 387.45 L517.74 387.07 L518.85 386.69 L519.96 386.29 L521.07 385.89 L522.18 385.47 L523.29 385.05 L524.40 384.62 L525.51 384.17 L526.62 383.72 L527.73 383.26 L528.84 382.79 L529.95 382.31 L531.06 381.82 L532.17 381.32 L533.28 380.81 L534.39 380.29 L535.50 379.77 L536.62 379.23 L537.73 378.69 L538.84 378.14 L539.95 377.58 L541.06 377.01 L542.17 376.44 L543.28 375.85 L544.39 375.26 L545.50 374.66 L546.61 374.05 L547.72 373.44 L548.83 372.81 L549.94 372.18 L551.05 371.54 L552.16 370.90 L553.27 370.24 L554.38 369.58 L555.49 368.91 L556.60 368.24 L557.71 367.56 L558.83 366.87 L559.94 366.17 L561.05 365.47 L562.16 364.76 L563.27 364.05 L564.38 363.32 L565.49 362.60 L566.60 361.86 L567.71 361.13 L568.82 360.38 L569.93 359.63 L571.04 358.87 L572.15 358.11 L573.26 357.34 L574.37 356.57 L575.48 355.80 L576.59 355.01 L577.70 354.23 L578.81 353.43 L579.92 352.64 L581.03 351.84 L582.15 351.03 L583.26 350.22 L584.37 349.41 L585.48 348.59 L586.59 347.77 L587.70 346.95 L588.81 346.12 L589.92 345.29 L591.03 344.45 L592.14 343.61 L593.25 342.77 L594.36 341.93 L595.47 341.08 L596.58 340.23 L597.69 339.38 L598.80 338.52 L599.91 337.66 L601.02 336.80 L602.13 335.94 L603.25 335.08 L604.36 334.22 L605.47 333.35 L606.58 332.48 L607.69 331.61 L608.80 330.74 L609.91 329.87 L611.02 329.00 L612.13 328.13 L613.24 327.25 L614.35 326.38 L615.46 325.50 L616.57 324.63 L617.68 323.75 L618.79 322.88 L619.90 322.00 L621.01 321.13 L622.12 320.26 L623.23 319.38 L624.34 318.51 L625.46 317.64 L626.57 316.77 L627.68 315.90 L628.79 315.03 L629.90 314.16 L631.01 313.30 L632.12 312.43 L633.23 311.57 L634.34 310.71 L635.45 309.85 L636.56 309.00 L637.67 308.15 L638.78 307.29 L639.89 306.45 L641.00 305.60 L642.11 304.76 L643.22 303.92 L644.33 303.08 L645.44 302.25 L646.55 301.42 L647.67 300.59 L648.78 299.77 L649.89 298.95 L651.00 298.14 L652.11 297.33 L653.22 296.52 L654.33 295.72 L655.44 294.92 L656.55 294.13 L657.66 293.34 L658.77 292.56 L659.88 291.78 L660.99 291.00 L662.10 290.24 L663.21 289.47 L664.32 288.71 L665.43 287.96 L666.54 287.22 L667.65 286.47 L668.76 285.74 L669.88 285.01 L670.99 284.29 L672.10 283.57 L673.21 282.86 L674.32 282.16 L675.43 281.46 L676.54 280.77 L677.65 280.08 L678.76 279.41 L679.87 278.74 L680.98 278.07 L682.09 277.42 L683.20 276.77 L684.31 276.13 L685.42 275.49 L686.53 274.87 L687.64 274.25 L688.75 273.64 L689.86 273.03 L690.97 272.44 L692.09 271.85 L693.20 271.27 L694.31 270.70 L695.42 270.14 L696.53 269.59 L697.64 269.04 L698.75 268.51 L699.86 267.98 L700.97 267.46 L702.08 266.95 L703.19 266.45 L704.30 265.96 L705.41 265.47 L706.52 265.00 L707.63 264.53 L708.74 264.08 L709.85 263.63 L710.96 263.19 L712.07 262.77 L713.18 262.35 L714.30 261.94 L715.41 261.54 L716.52 261.15 L717.63 260.78 L718.74 260.41 L719.85 260.05 L720.96 259.70 L722.07 259.36 L723.18 259.03 L724.29 258.71 L725.40 258.40 L726.51 258.11 L727.62 257.82 L728.73 257.54 L729.84 257.27 L730.95 257.02 L732.06 256.77 L733.17 256.54 L734.28 256.31 L735.39 256.10 L736.50 255.89 L737.62 255.70 L738.73 255.52 L739.84 255.34 L740.95 255.18 L742.06 255.03 L743.17 254.89 L744.28 254.76 L745.39 254.65 L746.50 254.54 L747.61 254.44 L748.72 254.36 L749.83 254.28 L750.94 254.22 L752.05 254.17 L753.16 254.13 L754.27 254.09 L755.38 254.07 L756.49 254.07 L757.60 254.07 L758.72 254.08 L759.83 254.10 L760.94 254.14 L762.05 254.18 L763.16 254.24 L764.27 254.31 L765.38 254.39 L766.49 254.48 L767.60 254.58 L768.71 254.69 L769.82 254.81 L770.93 254.94 L772.04 255.09 L773.15 255.24 L774.26 255.41 L775.37 255.58 L776.48 255.77 L777.59 255.96 L778.70 256.17 L779.81 256.39 L780.93 256.62 L782.04 256.86 L783.15 257.11 L784.26 257.37 L785.37 257.64 L786.48 257.92 L787.59 258.21 L788.70 258.52 L789.81 258.83 L790.92 259.15 L792.03 259.48 L793.14 259.82 L794.25 260.18 L795.36 260.54 L796.47 260.91 L797.58 261.29 L798.69 261.69 L799.80 262.09 L800.91 262.50 L802.02 262.92 L803.13 263.35 L804.25 263.79 L805.36 264.24 L806.47 264.70 L807.58 265.17 L808.69 265.65 L809.80 266.13 L810.91 266.63 L812.02 267.13 L813.13 267.65 L814.24 268.17 L815.35 268.70 L816.46 269.24 L817.57 269.79 L818.68 270.34 L819.79 270.91 L820.90 271.48 L822.01 272.06 L823.12 272.65 L824.23 273.25 L825.35 273.86 L826.46 274.47 L827.57 275.09 L828.68 275.72 L829.79 276.36 L830.90 277.00 L832.01 277.65 L833.12 278.31 L834.23 278.98 L835.34 279.65 L836.45 280.33 L837.56 281.02 L838.67 281.71 L839.78 282.41 L840.89 283.12 L842.00 283.83 L843.11 284.55 L844.22 285.27 L845.33 286.01 L846.44 286.74 L847.56 287.49 L848.67 288.23 L849.78 288.99 L850.89 289.75 L852.00 290.51 L853.11 291.28 L854.22 292.06 L855.33 292.84 L856.44 293.63 L857.55 294.42 L858.66 295.21 L859.77 296.01 L860.88 296.81 L861.99 297.62 L863.10 298.43 L864.21 299.25 L865.32 300.07 L866.43 300.89 L867.54 301.72 L868.65 302.55 L869.76 303.39 L870.88 304.22 L871.99 305.06 L873.10 305.91 L874.21 306.75 L875.32 307.60 L876.43 308.45 L877.54 309.31 L878.65 310.17 L879.76 311.02 L880.87 311.88 L881.98 312.75 L883.09 313.61 L884.20 314.48 L885.31 315.34 L886.42 316.21 L887.53 317.08 L888.64 317.95 L889.75 318.83 L890.86 319.70 L891.98 320.57 L893.09 321.45 L894.20 322.32 L895.31 323.20 L896.42 324.07 L897.53 324.95 L898.64 325.82 L899.75 326.69 L900.86 327.57 L901.97 328.44 L903.08 329.31 L904.19 330.19 L905.30 331.06 L906.41 331.93 L907.52 332.80 L908.63 333.66 L909.74 334.53 L910.85 335.39 L911.96 336.26 L913.07 337.12 L914.19 337.98 L915.30 338.83 L916.41 339.69 L917.52 340.54 L918.63 341.39 L919.74 342.23 L920.85 343.08 L921.96 343.92 L923.07 344.75 L924.18 345.59 L925.29 346.42 L926.40 347.25 L927.51 348.07 L928.62 348.89 L929.73 349.70 L930.84 350.52 L931.95 351.32 L933.06 352.13 L934.17 352.93 L935.28 353.72 L936.39 354.51 L937.51 355.30 L938.62 356.08 L939.73 356.85 L940.84 357.62 L941.95 358.39 L943.06 359.15 L944.17 359.90 L945.28 360.65 L946.39 361.39 L947.50 362.13" stroke="#0072bd" stroke-width="4.5"/>
<path d="M59.10 499.03 L60.21 498.16 L61.32 497.28 L62.43 496.41 L63.54 495.53 L64.65 494.66 L65.76 493.79 L66.87 492.91 L67.98 492.04 L69.09 491.17 L70.20 490.30 L71.32 489.44 L72.43 488.57 L73.54 487.71 L74.65 486.84 L75.76 485.98 L76.87 485.13 L77.98 484.27 L79.09 483.41 L80.20 482.56 L81.31 481.71 L82.42 480.87 L83.53 480.02 L84.64 479.18 L85.75 478.35 L86.86 477.51 L87.97 476.68 L89.08 475.85 L90.19 475.03 L91.30 474.21 L92.41 473.39 L93.53 472.58 L94.64 471.77 L95.75 470.97 L96.86 470.17 L97.97 469.38 L99.08 468.59 L100.19 467.80 L101.30 467.02 L102.41 466.25 L103.52 465.48 L104.63 464.71 L105.74 463.95 L106.85 463.20 L107.96 462.45 L109.07 461.70 L110.18 460.97 L111.29 460.24 L112.40 459.51 L113.51 458.79 L114.62 458.08 L115.74 457.37 L116.85 456.67 L117.96 455.98 L119.07 455.29 L120.18 454.61 L121.29 453.94 L122.40 453.28 L123.51 452.62 L124.62 451.97 L125.73 451.32 L126.84 450.69 L127.95 450.06 L129.06 449.44 L130.17 448.82 L131.28 448.22 L132.39 447.62 L133.50 447.03 L134.61 446.45 L135.72 445.87 L136.84 445.31 L137.95 444.75 L139.06 444.20 L140.17 443.67 L141.28 443.13 L142.39 442.61 L143.50 442.10 L144.61 441.59 L145.72 441.10 L146.83 440.61 L147.94 440.14 L149.05 439.67 L150.16 439.21 L151.27 438.76 L152.38 438.32 L153.49 437.89 L154.60 437.47 L155.71 437.06 L156.82 436.65 L157.93 436.26 L159.04 435.88 L160.16 435.51 L161.27 435.15 L162.38 434.79 L163.49 434.45 L164.60 434.12 L165.71 433.80 L166.82 433.48 L167.93 433.18 L169.04 432.89 L170.15 432.61 L171.26 432.34 L172.37 432.08 L173.48 431.83 L174.59 431.59 L175.70 431.36 L176.81 431.14 L177.92 430.94 L179.03 430.74 L180.14 430.55 L181.25 430.38 L182.37 430.21 L183.48 430.06 L184.59 429.92 L185.70 429.78 L186.81 429.66 L187.92 429.55 L189.03 429.45 L190.14 429.36 L191.25 429.28 L192.36 429.22 L193.47 429.16 L194.58 429.11 L195.69 429.08 L196.80 429.06 L197.91 429.04 L199.02 429.04 L200.13 429.05 L201.24 429.07 L202.35 429.10 L203.47 429.14 L204.58 429.20 L205.69 429.26 L206.80 429.33 L207.91 429.42 L209.02 429.52 L210.13 429.62 L211.24 429.74 L212.35 429.87 L213.46 430.01 L214.57 430.16 L215.68 430.32 L216.79 430.49 L217.90 430.68 L219.01 430.87 L220.12 431.07 L221.23 431.29 L222.34 431.51 L223.45 431.75 L224.56 432.00 L225.67 432.25 L226.79 432.52 L227.90 432.80 L229.01 433.09 L230.12 433.38 L231.23 433.69 L232.34 434.01 L233.45 434.34 L234.56 434.68 L235.67 435.03 L236.78 435.39 L237.89 435.76 L239.00 436.14 L240.11 436.52 L241.22 436.92 L242.33 437.33 L243.44 437.75 L244.55 438.18 L245.66 438.61 L246.77 439.06 L247.88 439.52 L249.00 439.98 L250.11 440.46 L251.22 440.94 L252.33 441.43 L253.44 441.93 L254.55 442.44 L255.66 442.96 L256.77 443.49 L257.88 444.03 L258.99 444.57 L260.10 445.13 L261.21 445.69 L262.32 446.26 L263.43 446.84 L264.54 447.43 L265.65 448.02 L266.76 448.62 L267.87 449.23 L268.98 449.85 L270.10 450.48 L271.21 451.11 L272.32 451.75 L273.43 452.40 L274.54 453.06 L275.65 453.72 L276.76 454.39 L277.87 455.07 L278.98 455.75 L280.09 456.45 L281.20 457.14 L282.31 457.85 L283.42 458.56 L284.53 459.27 L285.64 460.00 L286.75 460.73 L287.86 461.46 L288.97 462.20 L290.08 462.95 L291.19 463.70 L292.31 464.46 L293.42 465.22 L294.53 465.99 L295.64 466.77 L296.75 467.55 L297.86 468.33 L298.97 469.12 L300.08 469.91 L301.19 470.71 L302.30 471.51 L303.41 472.32 L304.52 473.13 L305.63 473.94 L306.74 474.76 L307.85 475.58 L308.96 476.41 L310.07 477.24 L311.18 478.07 L312.29 478.91 L313.40 479.75 L314.51 480.59 L315.63 481.44 L316.74 482.28 L317.85 483.14 L318.96 483.99 L320.07 484.84 L321.18 485.70 L322.29 486.56 L323.40 487.42 L324.51 488.29 L325.62 489.15 L326.73 490.02 L327.84 490.89 L328.95 491.76 L330.06 492.63 L331.17 493.50 L332.28 494.37 L333.39 495.25 L334.50 496.12 L335.61 496.99 L336.73 497.87 L337.84 498.74 L338.95 499.62 L340.06 500.49 L341.17 501.37 L342.28 502.24 L343.39 503.12 L344.50 503.99 L345.61 504.86 L346.72 505.73 L347.83 506.60 L348.94 507.47 L350.05 508.34 L351.16 509.21 L352.27 510.07 L353.38 510.93 L354.49 511.79 L355.60 512.65 L356.71 513.51 L357.82 514.37 L358.94 515.22 L360.05 516.07 L361.16 516.92 L362.27 517.76 L363.38 518.60 L364.49 519.44 L365.60 520.27 L366.71 521.11 L367.82 521.94 L368.93 522.76 L370.04 523.58 L371.15 524.40 L372.26 525.21 L373.37 526.02 L374.48 526.83 L375.59 527.63 L376.70 528.42 L377.81 529.22 L378.92 530.00 L380.03 530.78 L381.15 531.56 L382.26 532.33 L383.37 533.10 L384.48 533.86 L385.59 534.62 L386.70 535.37 L387.81 536.11 L388.92 536.85 L390.03 537.59 L391.14 538.31 L392.25 539.03 L393.36 539.75 L394.47 540.46 L395.58 541.16 L396.69 541.85 L397.80 542.54 L398.91 543.22 L400.02 543.90 L401.13 544.57 L402.24 545.23 L403.36 545.88 L404.47 546.53 L405.58 547.17 L406.69 547.80 L407.80 548.42 L408.91 549.04 L410.02 549.65 L411.13 550.25 L412.24 550.84 L413.35 551.42 L414.46 552.00 L415.57 552.57 L416.68 553.13 L417.79 553.68 L418.90 554.22 L420.01 554.75 L421.12 555.28 L422.23 555.79 L423.34 556.30 L424.45 556.80 L425.56 557.29 L426.68 557.77 L427.79 558.24 L428.90 558.70 L430.01 559.15 L431.12 559.60 L432.23 560.03 L433.34 560.46 L434.45 560.87 L435.56 561.28 L436.67 561.67 L437.78 562.06 L438.89 562.43 L440.00 562.80 L441.11 563.15 L442.22 563.50 L443.33 563.83 L444.44 564.16 L445.55 564.47 L446.66 564.78 L447.78 565.07 L448.89 565.36 L450.00 565.63 L451.11 565.90 L452.22 566.15 L453.33 566.39 L454.44 566.62 L455.55 566.85 L456.66 567.06 L457.77 567.26 L458.88 567.45 L459.99 567.63 L461.10 567.79 L462.21 567.95 L463.32 568.10 L464.43 568.24 L465.54 568.36 L466.65 568.47 L467.76 568.58 L468.87 568.67 L469.99 568.75 L471.10 568.82 L472.21 568.88 L473.32 568.93 L474.43 568.97 L475.54 569.00 L476.65 569.01 L477.76 569.02 L478.87 569.01 L479.98 569.00 L481.09 568.97 L482.20 568.93 L483.31 568.88 L484.42 568.82 L485.53 568.75 L486.64 568.67 L487.75 568.58 L488.86 568.47 L489.97 568.36 L491.08 568.23 L492.20 568.10 L493.31 567.95 L494.42 567.79 L495.53 567.62 L496.64 567.44 L497.75 567.25 L498.86 567.05 L499.97 566.84 L501.08 566.62 L502.19 566.39 L503.30 566.15 L504.41 565.89 L505.52 565.63 L506.63 565.35 L507.74 565.07 L508.85 564.77 L509.96 564.47 L511.07 564.15 L512.18 563.83 L513.29 563.49 L514.40 563.15 L515.52 562.79 L516.63 562.42 L517.74 562.05 L518.85 561.66 L519.96 561.27 L521.07 560.86 L522.18 560.45 L523.29 560.02 L524.40 559.59 L525.51 559.15 L526.62 558.69 L527.73 558.23 L528.84 557.76 L529.95 557.28 L531.06 556.79 L532.17 556.29 L533.28 555.78 L534.39 555.27 L535.50 554.74 L536.62 554.21 L537.73 553.67 L538.84 553.12 L539.95 552.56 L541.06 551.99 L542.17 551.41 L543.28 550.83 L544.39 550.24 L545.50 549.64 L546.61 549.03 L547.72 548.41 L548.83 547.79 L549.94 547.16 L551.05 546.52 L552.16 545.87 L553.27 545.22 L554.38 544.56 L555.49 543.89 L556.60 543.21 L557.71 542.53 L558.83 541.84 L559.94 541.15 L561.05 540.44 L562.16 539.74 L563.27 539.02 L564.38 538.30 L565.49 537.57 L566.60 536.84 L567.71 536.10 L568.82 535.36 L569.93 534.60 L571.04 533.85 L572.15 533.09 L573.26 532.32 L574.37 531.55 L575.48 530.77 L576.59 529.99 L577.70 529.20 L578.81 528.41 L579.92 527.61 L581.03 526.81 L582.15 526.01 L583.26 525.20 L584.37 524.38 L585.48 523.57 L586.59 522.75 L587.70 521.92 L588.81 521.09 L589.92 520.26 L591.03 519.42 L592.14 518.59 L593.25 517.74 L594.36 516.90 L595.47 516.05 L596.58 515.20 L597.69 514.35 L598.80 513.50 L599.91 512.64 L601.02 511.78 L602.13 510.92 L603.25 510.06 L604.36 509.19 L605.47 508.32 L606.58 507.46 L607.69 506.59 L608.80 505.72 L609.91 504.85 L611.02 503.97 L612.13 503.10 L613.24 502.23 L614.35 501.35 L615.46 500.48 L616.57 499.60 L617.68 498.73 L618.79 497.85 L619.90 496.98 L621.01 496.10 L622.12 495.23 L623.23 494.36 L624.34 493.48 L625.46 492.61 L626.57 491.74 L627.68 490.87 L628.79 490.00 L629.90 489.14 L631.01 488.27 L632.12 487.41 L633.23 486.55 L634.34 485.69 L635.45 484.83 L636.56 483.97 L637.67 483.12 L638.78 482.27 L639.89 481.42 L641.00 480.58 L642.11 479.73 L643.22 478.89 L644.33 478.06 L645.44 477.23 L646.55 476.40 L647.67 475.57 L648.78 474.75 L649.89 473.93 L651.00 473.11 L652.11 472.30 L653.22 471.50 L654.33 470.69 L655.44 469.90 L656.55 469.10 L657.66 468.32 L658.77 467.53 L659.88 466.75 L660.99 465.98 L662.10 465.21 L663.21 464.45 L664.32 463.69 L665.43 462.94 L666.54 462.19 L667.65 461.45 L668.76 460.71 L669.88 459.98 L670.99 459.26 L672.10 458.55 L673.21 457.83 L674.32 457.13 L675.43 456.43 L676.54 455.74 L677.65 455.06 L678.76 454.38 L679.87 453.71 L680.98 453.05 L682.09 452.39 L683.20 451.74 L684.31 451.10 L685.42 450.47 L686.53 449.84 L687.64 449.22 L688.75 448.61 L689.86 448.01 L690.97 447.41 L692.09 446.83 L693.20 446.25 L694.31 445.68 L695.42 445.12 L696.53 444.56 L697.64 444.02 L698.75 443.48 L699.86 442.95 L700.97 442.43 L702.08 441.92 L703.19 441.42 L704.30 440.93 L705.41 440.45 L706.52 439.97 L707.63 439.51 L708.74 439.05 L709.85 438.61 L710.96 438.17 L712.07 437.74 L713.18 437.32 L714.30 436.92 L715.41 436.52 L716.52 436.13 L717.63 435.75 L718.74 435.38 L719.85 435.02 L720.96 434.67 L722.07 434.34 L723.18 434.01 L724.29 433.69 L725.40 433.38 L726.51 433.08 L727.62 432.79 L728.73 432.52 L729.84 432.25 L730.95 431.99 L732.06 431.75 L733.17 431.51 L734.28 431.29 L735.39 431.07 L736.50 430.87 L737.62 430.67 L738.73 430.49 L739.84 430.32 L740.95 430.16 L742.06 430.01 L743.17 429.87 L744.28 429.74 L745.39 429.62 L746.50 429.51 L747.61 429.42 L748.72 429.33 L749.83 429.26 L750.94 429.19 L752.05 429.14 L753.16 429.10 L754.27 429.07 L755.38 429.05 L756.49 429.04 L757.60 429.04 L758.72 429.06 L759.83 429.08 L760.94 429.11 L762.05 429.16 L763.16 429.22 L764.27 429.28 L765.38 429.36 L766.49 429.45 L767.60 429.55 L768.71 429.66 L769.82 429.78 L770.93 429.92 L772.04 430.06 L773.15 430.22 L774.26 430.38 L775.37 430.56 L776.48 430.74 L777.59 430.94 L778.70 431.15 L779.81 431.37 L780.93 431.59 L782.04 431.83 L783.15 432.08 L784.26 432.34 L785.37 432.62 L786.48 432.90 L787.59 433.19 L788.70 433.49 L789.81 433.80 L790.92 434.12 L792.03 434.46 L793.14 434.80 L794.25 435.15 L795.36 435.51 L796.47 435.89 L797.58 436.27 L798.69 436.66 L799.80 437.06 L800.91 437.47 L802.02 437.90 L803.13 438.33 L804.25 438.77 L805.36 439.22 L806.47 439.68 L807.58 440.14 L808.69 440.62 L809.80 441.11 L810.91 441.60 L812.02 442.11 L813.13 442.62 L814.24 443.14 L815.35 443.67 L816.46 444.21 L817.57 444.76 L818.68 445.32 L819.79 445.88 L820.90 446.46 L822.01 447.04 L823.12 447.63 L824.23 448.23 L825.35 448.83 L826.46 449.45 L827.57 450.07 L828.68 450.70 L829.79 451.33 L830.90 451.98 L832.01 452.63 L833.12 453.29 L834.23 453.95 L835.34 454.63 L836.45 455.31 L837.56 455.99 L838.67 456.69 L839.78 457.39 L840.89 458.09 L842.00 458.80 L843.11 459.52 L844.22 460.25 L845.33 460.98 L846.44 461.72 L847.56 462.46 L848.67 463.21 L849.78 463.96 L850.89 464.72 L852.00 465.49 L853.11 466.26 L854.22 467.03 L855.33 467.82 L856.44 468.60 L857.55 469.39 L858.66 470.19 L859.77 470.99 L860.88 471.79 L861.99 472.60 L863.10 473.41 L864.21 474.23 L865.32 475.05 L866.43 475.87 L867.54 476.70 L868.65 477.53 L869.76 478.36 L870.88 479.20 L871.99 480.04 L873.10 480.88 L874.21 481.73 L875.32 482.58 L876.43 483.43 L877.54 484.28 L878.65 485.14 L879.76 486.00 L880.87 486.86 L881.98 487.72 L883.09 488.59 L884.20 489.45 L885.31 490.32 L886.42 491.19 L887.53 492.06 L888.64 492.93 L889.75 493.80 L890.86 494.67 L891.98 495.55 L893.09 496.42 L894.20 497.30 L895.31 498.17 L896.42 499.05 L897.53 499.92 L898.64 500.80 L899.75 501.67 L900.86 502.54 L901.97 503.42 L903.08 504.29 L904.19 505.16 L905.30 506.03 L906.41 506.90 L907.52 507.77 L908.63 508.64 L909.74 509.50 L910.85 510.37 L911.96 511.23 L913.07 512.09 L914.19 512.95 L915.30 513.81 L916.41 514.66 L917.52 515.51 L918.63 516.36 L919.74 517.21 L920.85 518.05 L921.96 518.89 L923.07 519.73 L924.18 520.56 L925.29 521.39 L926.40 522.22 L927.51 523.04 L928.62 523.86 L929.73 524.68 L930.84 525.49 L931.95 526.30 L933.06 527.10 L934.17 527.90 L935.28 528.70 L936.39 529.49 L937.51 530.27 L938.62 531.05 L939.73 531.83 L940.84 532.60 L941.95 533.36 L943.06 534.12 L944.17 534.88 L945.28 535.63 L946.39 536.37 L947.50 537.11" stroke="#d95319" stroke-width="4.5"/>
</g>
<g font-size="28.0" stroke="#000" stroke-width="0.4">
<text transform="translate(59.10 749.9) scale(1 1.050)" text-anchor="middle">0</text>
<text transform="translate(147.94 749.9) scale(1 1.050)" text-anchor="middle">10</text>
<text transform="translate(236.78 749.9) scale(1 1.050)" text-anchor="middle">20</text>
<text transform="translate(325.62 749.9) scale(1 1.050)" text-anchor="middle">30</text>
<text transform="translate(414.46 749.9) scale(1 1.050)" text-anchor="middle">40</text>
<text transform="translate(503.30 749.9) scale(1 1.050)" text-anchor="middle">50</text>
<text transform="translate(592.14 749.9) scale(1 1.050)" text-anchor="middle">60</text>
<text transform="translate(680.98 749.9) scale(1 1.050)" text-anchor="middle">70</text>
<text transform="translate(769.82 749.9) scale(1 1.050)" text-anchor="middle">80</text>
<text transform="translate(858.66 749.9) scale(1 1.050)" text-anchor="middle">90</text>
<text transform="translate(947.50 749.9) scale(1 1.050)" text-anchor="middle">100</text>
<text transform="translate(47.2 720.60) scale(1 1.050)" text-anchor="end">-1.5</text>
<text transform="translate(47.2 633.11) scale(1 1.050)" text-anchor="end">-1</text>
<text transform="translate(47.2 545.62) scale(1 1.050)" text-anchor="end">-0.5</text>
<text transform="translate(47.2 458.14) scale(1 1.050)" text-anchor="end">0</text>
<text transform="translate(47.2 370.65) scale(1 1.050)" text-anchor="end">0.5</text>
<text transform="translate(47.2 283.16) scale(1 1.050)" text-anchor="end">1</text>
<text transform="translate(47.2 195.68) scale(1 1.050)" text-anchor="end">1.5</text>
<text transform="translate(47.2 108.19) scale(1 1.050)" text-anchor="end">2</text>
<text transform="translate(47.2 20.70) scale(1 1.050)" text-anchor="end">2.5</text>
</g>
<text transform="translate(502.8 789.6) scale(1 0.97)" font-size="29.85" text-anchor="middle" stroke="#000" stroke-width="0.4">Time (Sec.)</text>
<rect x="772" y="37" width="147.1" height="179.4" fill="#fff" stroke="#000" stroke-width="2"/>
<g fill="none">
<path d="M788.3 58.7H869.8" stroke="#ff0000" stroke-width="1.5"/>
<path d="M788.3 92.9H869.8" stroke="#0000ff" stroke-width="1.5" stroke-dasharray="16.2 10"/>
<path d="M788.3 126.9H869.8" stroke="#00ff00" stroke-width="1.5" stroke-dasharray="13 5.3 2.6 5.3"/>
<path d="M788.3 160.9H869.8" stroke="#0072bd" stroke-width="4.5"/>
<path d="M788.3 194.9H869.8" stroke="#d95319" stroke-width="4.5"/>
</g>
<text class="s" x="880.8" y="65.3" font-size="25.6" stroke="#000" stroke-width="0.3">y<tspan class="r" font-size="20.4" dx="-1.3" dy="4.5">1</tspan></text>
<text class="s" x="880.8" y="99.5" font-size="25.6" stroke="#000" stroke-width="0.3">y<tspan class="r" font-size="20.4" dx="-1.3" dy="4.5">2</tspan></text>
<text class="s" x="880.8" y="133.5" font-size="25.6" stroke="#000" stroke-width="0.3">y<tspan class="r" font-size="20.4" dx="-1.3" dy="4.5">3</tspan></text>
<text class="s" x="880.8" y="167.5" font-size="25.6" stroke="#000" stroke-width="0.3">y<tspan class="r" font-size="20.4" dx="-1.3" dy="4.5">1</tspan><tspan class="s" font-size="17.6" dx="0.4" textLength="8.6" lengthAdjust="spacingAndGlyphs">r</tspan></text>
<text class="s" x="880.8" y="201.5" font-size="25.6" stroke="#000" stroke-width="0.3">y<tspan class="r" font-size="20.4" dx="-1.3" dy="4.5">2</tspan><tspan class="s" font-size="17.6" dx="0.4" textLength="8.6" lengthAdjust="spacingAndGlyphs">r</tspan></text>
</svg></body></html>
